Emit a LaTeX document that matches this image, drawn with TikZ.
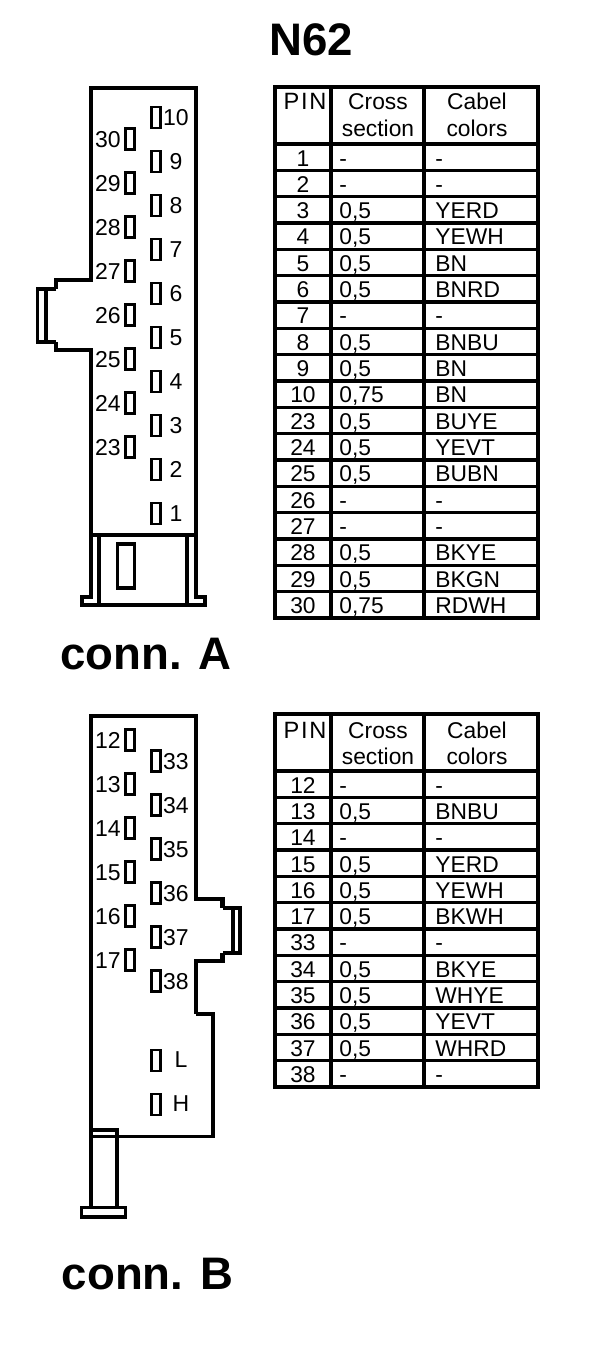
\documentclass[tikz,border=0pt]{standalone}
\usepackage{fontspec}
\setmainfont{Liberation Sans}
\usetikzlibrary{positioning}
\tikzset{
	pinbox/.style={draw, line width=1.2pt, minimum width=4.6pt, minimum height=10.6pt, inner sep=0pt},
	pinlabel/.style={font=\fontsize{11.5}{11.5}\selectfont, inner sep=0pt, text height=8.2pt, text depth=0pt},
	cell/.style={font=\fontsize{11.4}{11.4}\selectfont, inner sep=0pt, text height=8pt, text depth=0pt},
	pincell/.style={cell, font=\fontsize{11.8}{11.8}\selectfont\addfontfeature{LetterSpace=7}},
	bigtitle/.style={font=\fontsize{22.8}{23}\selectfont\bfseries, inner sep=0pt},
	wall/.style={line width=2.1pt, line join=miter},
	thinwall/.style={line width=1.6pt, line join=miter},
	rule/.style={line width=1.6pt},
	frame/.style={line width=1.8pt}
}
\begin{document}
\begin{tikzpicture}[x=0.5pt, y=-0.5pt]
	\useasboundingbox (0,0) rectangle (608,1370);
	\node [bigtitle] (title) at (311,40) {N62};
	\node [bigtitle] (connA) at (146,654) {conn. A};
	\node [bigtitle] (connB) at (147.5,1274) {conn. B};

	% conn. A body
	\draw [wall] (196,535) -- (196,88) -- (91,88) -- (91,280) -- (56,280) -- (56,289);
	\draw [wall] (56,342) -- (56,350) -- (91,350) -- (91,597) -- (82,597) -- (82,605) -- (205,605) -- (205,597) -- (196,597) -- (196,535);
	\draw [thinwall] (56,289) -- (37.5,289) -- (37.5,342) -- (56,342);
	\draw [thinwall] (46,289) -- (46,342);
	\draw [thinwall] (91,535) -- (196,535);
	\draw [thinwall] (99,535) -- (99,605);
	\draw [thinwall] (187,535) -- (187,605);
	\draw [thinwall] (117.5,544) rectangle (134.5,588);

	% conn. A pins
	\foreach \num [count=\i from 0] in {30,29,28,27,26,25,24,23} {
		\node [pinbox] (pa\num) at (130,139+44*\i) {};
		\node [pinlabel] (la\num) at (108,139+44*\i) {\num};
	}
	\foreach \num [count=\i from 0] in {10,9,8,7,6,5,4,3,2,1} {
		\node [pinbox] (pa\num) at (156,117.5+44*\i) {};
		\node [pinlabel] (la\num) at (176,117.5+44*\i) {\num};
	}

	% conn. B body
	\draw [wall] (91,1207) -- (91,716) -- (196,716) -- (196,899) -- (222.5,899) -- (222.5,908);
	\draw [wall] (222.5,953) -- (222.5,961) -- (196,961) -- (196,1014);
	\draw [thinwall] (222.5,908) -- (240,908) -- (240,953) -- (222.5,953);
	\draw [thinwall] (233,908) -- (233,953);
	\draw [thinwall] (196,1014) -- (213,1014) -- (213,1136.5) -- (91,1136.5);
	\draw [thinwall] (91,1130) -- (117,1130) -- (117,1207);
	\draw [thinwall] (81.5,1207.5) rectangle (125.5,1217);

	% conn. B pins
	\foreach \num [count=\i from 0] in {12,13,14,15,16,17} {
		\node [pinbox] (pb\num) at (130,740+44*\i) {};
		\node [pinlabel] (lb\num) at (108,740+44*\i) {\num};
	}
	\foreach \num [count=\i from 0] in {33,34,35,36,37,38} {
		\node [pinbox] (pb\num) at (156,761+44*\i) {};
		\node [pinlabel] (lb\num) at (176,761+44*\i) {\num};
	}
	\node [pinbox] (pbL) at (156,1060.5) {};
	\node [pinlabel] (lbL) at (181,1059) {L};
	\node [pinbox] (pbH) at (156,1104.5) {};
	\node [pinlabel] (lbH) at (181,1103) {H};

	% table A
	\draw [frame] (275,87) rectangle (538,618);
	\draw [rule] (331,87) -- (331,618);
	\draw [rule] (424,87) -- (424,618);
	\foreach \i in {0,...,17} \draw [rule] (275,144+26.33*\i) -- (538,144+26.33*\i);
	\node [pincell] (pinA) at (305,102) {PIN};
	\node [cell] (crossA) at (378,102) {Cross};
	\node [cell] (sectionA) at (378,128) {section};
	\node [cell] (cabelA) at (477,102) {Cabel};
	\node [cell] (colorsA) at (477,128) {colors};
	\foreach \pin/\sect/\col [count=\i from 0] in {1/-/-,2/-/-,3/{0,5}/YERD,4/{0,5}/YEWH,5/{0,5}/BN,6/{0,5}/BNRD,7/-/-,8/{0,5}/BNBU,9/{0,5}/BN,10/{0,75}/BN,23/{0,5}/BUYE,24/{0,5}/YEVT,25/{0,5}/BUBN,26/-/-,27/-/-,28/{0,5}/BKYE,29/{0,5}/BKGN,30/{0,75}/RDWH} {
		\node [cell] (ra\pin) at (303,158+26.33*\i) {\pin};
		\node [cell, anchor=west] (sa\pin) at (339,158+26.33*\i) {\sect};
		\node [cell, anchor=west] (ca\pin) at (435,158+26.33*\i) {\col};
	}

	% table B
	\draw [frame] (275,714) rectangle (538,1087);
	\draw [rule] (331,714) -- (331,1087);
	\draw [rule] (424,714) -- (424,1087);
	\foreach \i in {0,...,11} \draw [rule] (275,771+26.33*\i) -- (538,771+26.33*\i);
	\node [pincell] (pinB) at (305,730) {PIN};
	\node [cell] (crossB) at (378,730) {Cross};
	\node [cell] (sectionB) at (378,756) {section};
	\node [cell] (cabelB) at (477,730) {Cabel};
	\node [cell] (colorsB) at (477,756) {colors};
	\foreach \pin/\sect/\col [count=\i from 0] in {12/-/-,13/{0,5}/BNBU,14/-/-,15/{0,5}/YERD,16/{0,5}/YEWH,17/{0,5}/BKWH,33/-/-,34/{0,5}/BKYE,35/{0,5}/WHYE,36/{0,5}/YEVT,37/{0,5}/WHRD,38/-/-} {
		\node [cell] (rb\pin) at (303,785+26.33*\i) {\pin};
		\node [cell, anchor=west] (sb\pin) at (339,785+26.33*\i) {\sect};
		\node [cell, anchor=west] (cb\pin) at (435,785+26.33*\i) {\col};
	}
\end{tikzpicture}
\end{document}
